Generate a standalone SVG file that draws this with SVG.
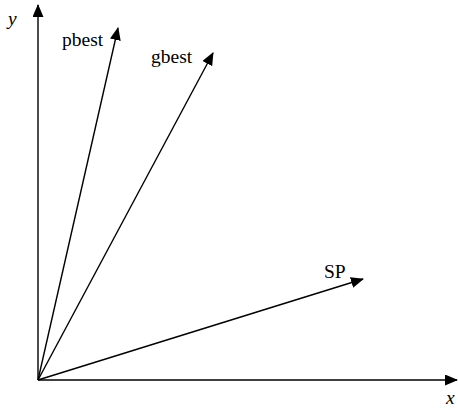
<svg xmlns="http://www.w3.org/2000/svg" width="458" height="410" viewBox="0 0 458 410">
<style>
.l{stroke:#000;stroke-width:1.4;fill:none}
.t{font-family:"Liberation Serif",serif;font-size:19.5px;fill:#000}
.i{font-style:italic}
</style>
<defs>
<marker id="a" markerUnits="userSpaceOnUse" markerWidth="13" markerHeight="11" refX="12" refY="5.5" orient="auto" viewBox="0 0 13 11">
<path d="M0,0 L13,5.5 L0,11 Z" fill="#000"/>
</marker>
</defs>
<rect width="458" height="410" fill="#fff"/>
<g id="connectors">
<line class="l" x1="38" y1="380" x2="38" y2="5" marker-end="url(#a)"/>
<line class="l" x1="38" y1="380" x2="457" y2="380" marker-end="url(#a)"/>
<line class="l" x1="38" y1="380" x2="118" y2="28" marker-end="url(#a)"/>
<line class="l" x1="38" y1="380" x2="213" y2="53" marker-end="url(#a)"/>
<line class="l" x1="38" y1="380" x2="363" y2="279" marker-end="url(#a)"/>
</g>
<g id="y-label"><text class="t i" x="8" y="25">y</text></g>
<g id="x-label"><text class="t i" x="446" y="404">x</text></g>
<g id="pbest"><text class="t" x="62" y="46">pbest</text></g>
<g id="gbest"><text class="t" x="151" y="63">gbest</text></g>
<g id="sp"><text class="t" x="324" y="278">SP</text></g>
</svg>
